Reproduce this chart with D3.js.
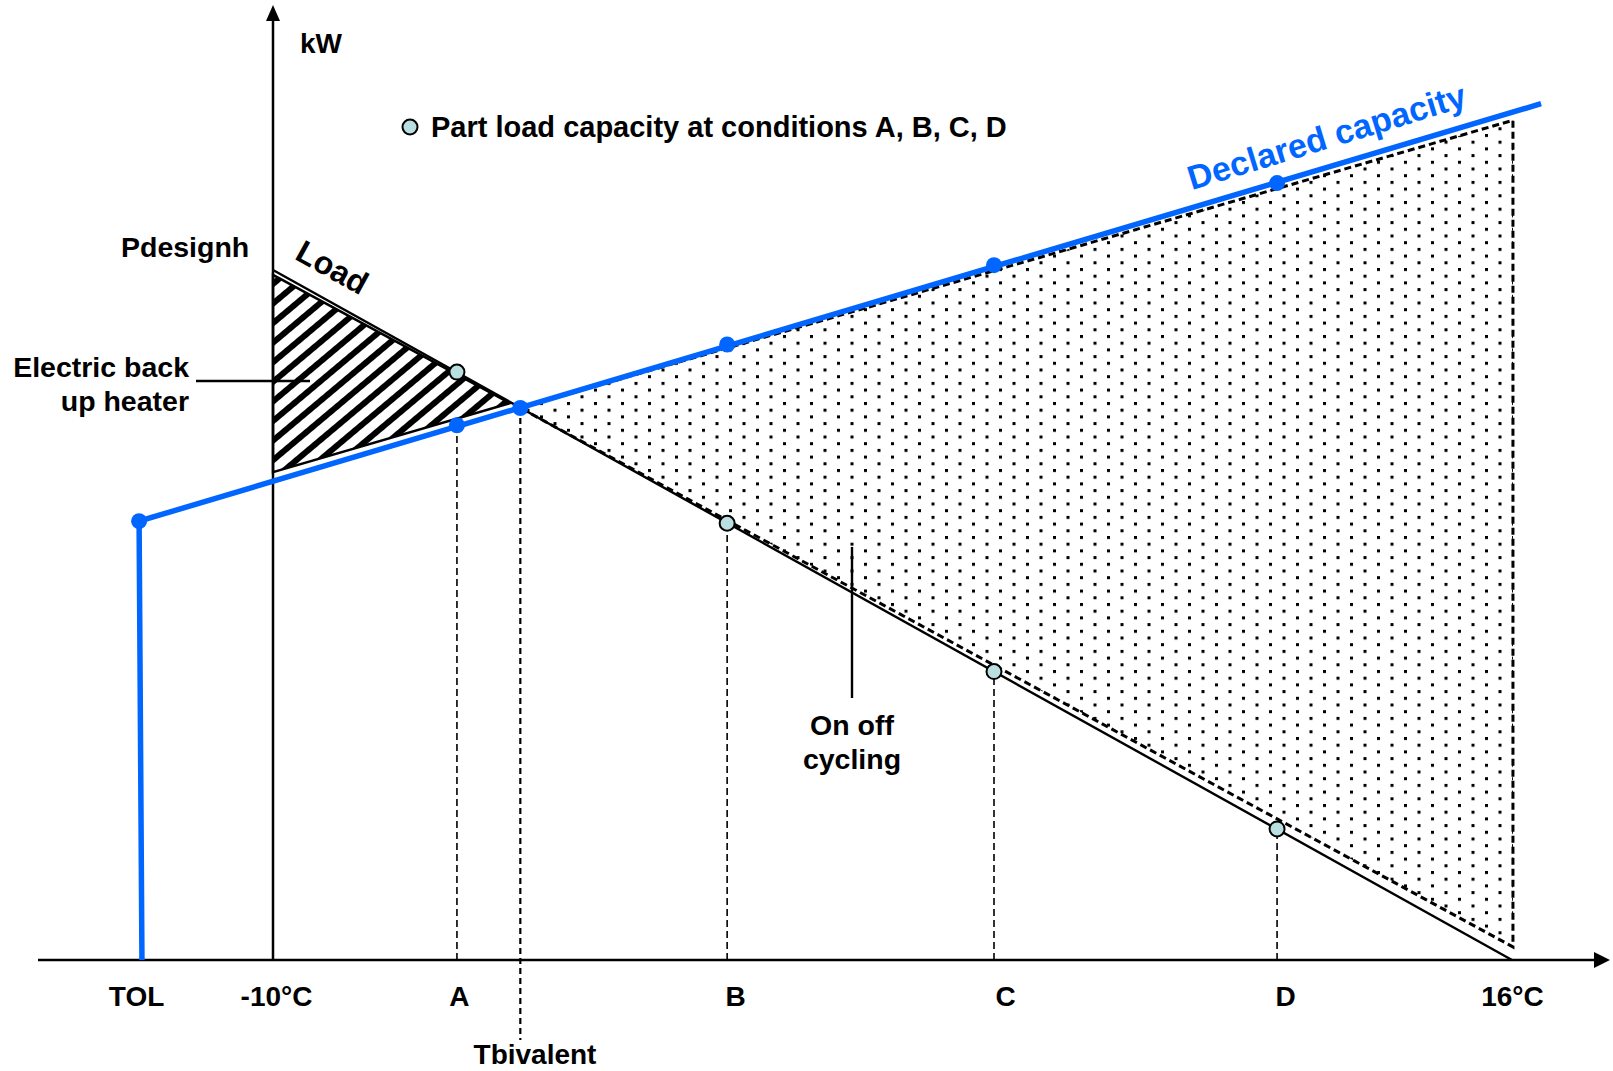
<!DOCTYPE html>
<html lang="en">

<head>
	<meta charset="UTF-8">
	<title>Heat pump capacity vs load</title>

	<style>
		body { margin: 0; background: #fff; }
		text { font-family: "Liberation Sans", Arial, sans-serif; font-weight: bold; }
	</style>

	<script src="https://d3js.org/d3.v7.min.js"></script>
</head>

<body>
	<script type="text/javascript">
		let width = 1613;
		let height = 1071;

		// x positions in deg C (schematic), y in kW (Pdesignh = 10)
		const tickTemps = [-12.81, -10, -6.14, -0.47, 5.13, 11.07, 16];
		const tickLabels = ["TOL", "-10°C", "A", "B", "C", "D", "16°C"];
		const labelDx = [-3, 3, 2, 8, 11, 8, 0];

		const tBivalent = -4.81;
		const kwBivalent = 8.0;

		const loadTemps = [-10, 16];
		const loadKw = [10, 0];

		const conditions = ["A", "B", "C", "D"];
		const condTemps = [-6.14, -0.47, 5.13, 11.07];
		const partLoadKw = [8.52, 6.33, 4.18, 1.90];
		const declaredKw = [7.75, 8.92, 10.07, 11.26];

		const capTemps = [-12.75, -12.81, 16.61];
		const capKw = [0, 6.36, 12.41];

		const backupTemps = [-10, -5.03, -10];
		const backupKw = [9.93, 8.07, 7.07];

		const cyclingTemps = [-4.81, 16.02, 16.02];
		const cyclingKw = [8.0, 12.17, 0.19];

		const blue = "#0066ff";
		const partFill = "#b9dfe0";

		const svg = d3.select("body").append("svg")
			.attr("width", width)
			.attr("height", height);

		const x = d3.scaleLinear().domain([-10, 16]).range([273, 1512]);
		const y = d3.scaleLinear().domain([0, 10]).range([960, 270]);

		const defs = svg.append("defs");

		// dotted fill for on/off cycling
		const dots = defs.append("pattern")
			.attr("id", "dots")
			.attr("patternUnits", "userSpaceOnUse")
			.attr("x", 0).attr("y", 0)
			.attr("width", 27).attr("height", 13.4);
		dots.append("rect").attr("x", 0).attr("y", 0).attr("width", 3).attr("height", 3).attr("fill", "#000");
		dots.append("rect").attr("x", 13.5).attr("y", 6.7).attr("width", 3).attr("height", 3).attr("fill", "#000");

		// diagonal stripes for backup heater
		const hatch = defs.append("pattern")
			.attr("id", "hatch")
			.attr("patternUnits", "userSpaceOnUse")
			.attr("width", 15).attr("height", 15)
			.attr("patternTransform", "rotate(50)");
		hatch.append("rect").attr("x", 0).attr("y", 0).attr("width", 6).attr("height", 15).attr("fill", "#000");

		const pts = (ts, ks) => ts.map((t, i) => [x(t), y(ks[i])]);
		const line = d3.line();

		// on/off cycling region
		svg.append("path")
			.attr("d", line(pts(cyclingTemps, cyclingKw)) + "Z")
			.attr("fill", "url(#dots)")
			.attr("stroke", "#000")
			.attr("stroke-width", 3)
			.attr("stroke-dasharray", "7,4");

		// electric back up heater region
		svg.append("path")
			.attr("d", line(pts(backupTemps, backupKw)) + "Z")
			.attr("fill", "url(#hatch)")
			.attr("stroke", "#000")
			.attr("stroke-width", 2.5);

		// axes
		const x0 = 38, x1 = 1610;
		svg.append("line")
			.attr("x1", x0).attr("x2", x1 - 12)
			.attr("y1", y(0)).attr("y2", y(0))
			.attr("stroke", "#000").attr("stroke-width", 2.5);
		svg.append("path")
			.attr("d", `M${x1},${y(0)} L${x1 - 16},${y(0) - 8} L${x1 - 16},${y(0) + 8} Z`)
			.attr("fill", "#000");

		svg.append("line")
			.attr("x1", x(-10)).attr("x2", x(-10))
			.attr("y1", y(0)).attr("y2", 18)
			.attr("stroke", "#000").attr("stroke-width", 2.5);
		svg.append("path")
			.attr("d", `M${x(-10)},5 L${x(-10) - 7},21 L${x(-10) + 7},21 Z`)
			.attr("fill", "#000");

		// x labels through an axis
		const xAxis = d3.axisBottom(x)
			.tickValues(tickTemps)
			.tickFormat((d, i) => tickLabels[i])
			.tickSize(0);
		const gx = svg.append("g")
			.attr("transform", `translate(0,${y(0)})`)
			.call(xAxis);
		gx.select(".domain").remove();
		gx.selectAll(".tick text")
			.attr("font-size", 28)
			.attr("font-family", '"Liberation Sans", Arial, sans-serif')
			.attr("fill", "#000")
			.attr("dy", null)
			.attr("y", 46)
			.attr("dx", (d, i) => labelDx[i]);

		// dashed guides at conditions
		svg.selectAll(".guide")
			.data(conditions)
			.join("line")
			.attr("class", "guide")
			.attr("x1", (d, i) => x(condTemps[i]))
			.attr("x2", (d, i) => x(condTemps[i]))
			.attr("y1", y(0))
			.attr("y2", (d, i) => i === 0 ? y(declaredKw[i]) : y(partLoadKw[i]))
			.attr("stroke", "#000")
			.attr("stroke-width", 1.6)
			.attr("stroke-dasharray", "7,4");

		svg.append("line")
			.attr("x1", x(tBivalent)).attr("x2", x(tBivalent))
			.attr("y1", y(kwBivalent)).attr("y2", 1040)
			.attr("stroke", "#000")
			.attr("stroke-width", 2.2)
			.attr("stroke-dasharray", "6,4");

		// load line
		svg.append("path")
			.attr("d", line(pts(loadTemps, loadKw)))
			.attr("stroke", "#000")
			.attr("stroke-width", 2.4)
			.attr("fill", "none");

		// declared capacity
		svg.append("path")
			.attr("d", line(pts(capTemps, capKw)))
			.attr("stroke", blue)
			.attr("stroke-width", 5.5)
			.attr("fill", "none");

		const bluePts = [[capTemps[1], capKw[1]], [tBivalent, kwBivalent]]
			.concat(condTemps.map((t, i) => [t, declaredKw[i]]));
		svg.selectAll(".capdot")
			.data(bluePts)
			.join("circle")
			.attr("class", "capdot")
			.attr("cx", d => x(d[0]))
			.attr("cy", d => y(d[1]))
			.attr("r", 8)
			.attr("fill", blue);

		svg.selectAll(".partdot")
			.data(conditions)
			.join("circle")
			.attr("class", "partdot")
			.attr("cx", (d, i) => x(condTemps[i]))
			.attr("cy", (d, i) => y(partLoadKw[i]))
			.attr("r", 7.5)
			.attr("fill", partFill)
			.attr("stroke", "#000")
			.attr("stroke-width", 2);

		// pointer lines
		svg.append("line")
			.attr("x1", 196).attr("x2", 310)
			.attr("y1", 381).attr("y2", 381)
			.attr("stroke", "#000").attr("stroke-width", 2.4);
		svg.append("line")
			.attr("x1", 852).attr("x2", 852)
			.attr("y1", 547).attr("y2", 698)
			.attr("stroke", "#000").attr("stroke-width", 2.4);

		// text
		function label(txt, px, py, anchor, size, color) {
			return svg.append("text")
				.attr("x", px).attr("y", py)
				.attr("text-anchor", anchor || "start")
				.attr("font-size", size || 28)
				.attr("fill", color || "#000")
				.text(txt);
		}

		label("kW", 300, 53);
		label("Pdesignh", 121, 257, "start", 28.5);
		label("Electric back", 189, 377, "end", 28.5);
		label("up heater", 189, 411, "end", 28.5);
		label("On off", 852, 735, "middle", 28.5);
		label("cycling", 852, 769, "middle", 28.5);
		label("Tbivalent", 535, 1064, "middle");

		svg.append("circle")
			.attr("cx", 410).attr("cy", 127)
			.attr("r", 7.5)
			.attr("fill", partFill)
			.attr("stroke", "#000")
			.attr("stroke-width", 2);
		label("Part load capacity at conditions A, B, C, D", 431, 137, "start", 29);

		label("Load", 0, 0, "middle", 32)
			.attr("transform", "translate(327,277) rotate(29)");
		label("Declared capacity", 0, 0, "middle", 34, blue)
			.attr("transform", "translate(1330,148) rotate(-17)");
	</script>
</body>

</html>
